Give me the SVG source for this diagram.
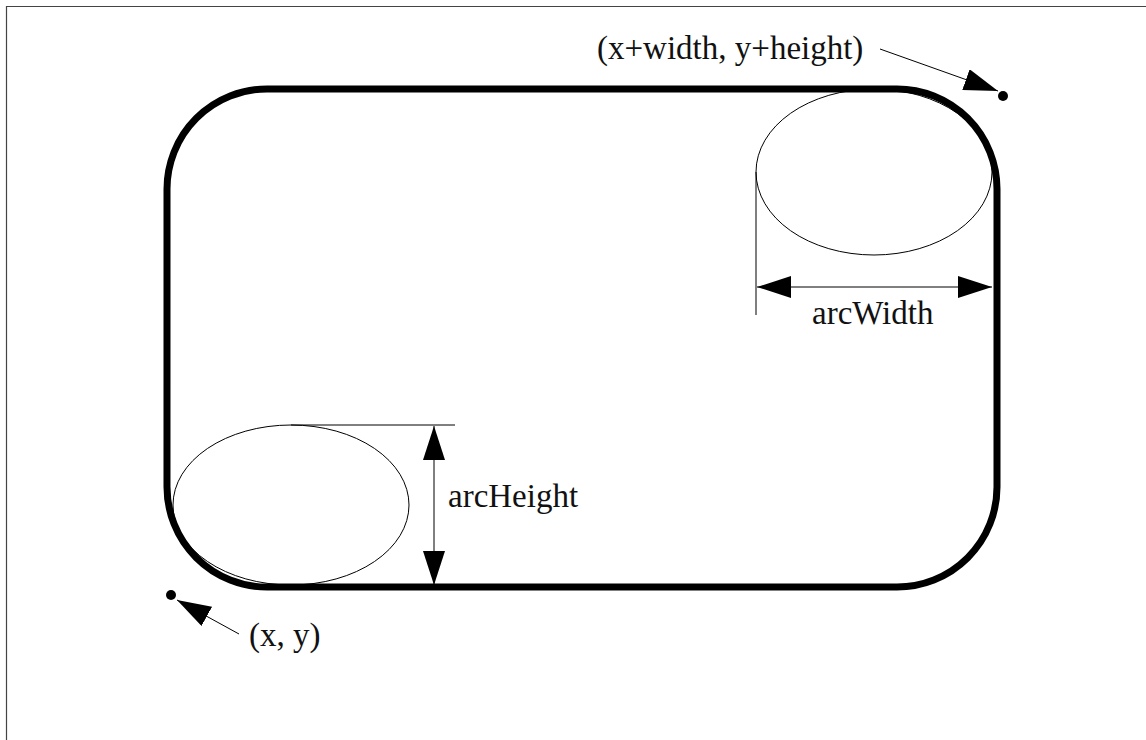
<svg xmlns="http://www.w3.org/2000/svg" width="1146" height="740" viewBox="0 0 1146 740">
  <style>
    .lbl { font-family: "Liberation Serif", "DejaVu Serif", serif; font-size: 33px; fill: #111; }
    .thin { fill: none; stroke: #000; stroke-width: 1; }
    .arr { fill: none; stroke: #000; stroke-width: 1; }
  </style>
  <defs>
    <marker id="ah" viewBox="0 0 34 22" refX="34" refY="11" markerWidth="34" markerHeight="22" markerUnits="userSpaceOnUse" orient="auto-start-reverse">
      <path d="M0,0 L34,11 L0,22 Z" fill="#000"/>
    </marker>
  </defs>
  <rect x="0" y="0" width="1146" height="740" fill="#fff"/>
  <g id="frame">
    <path d="M6.5,740 V6.5 H1146" fill="none" stroke="#444" stroke-width="1.2"/>
  </g>
  <g id="roundrect">
    <rect x="167" y="89" width="830" height="498" rx="100" ry="100" fill="none" stroke="#000" stroke-width="7"/>
  </g>
  <g id="arc-ellipse-top">
    <ellipse cx="874" cy="172" rx="118" ry="83" class="thin"/>
  </g>
  <g id="arc-ellipse-bottom">
    <ellipse cx="291" cy="505" rx="118" ry="80" class="thin"/>
  </g>
  <g id="point-xy">
    <circle cx="171" cy="595" r="5" fill="#000"/>
    <text class="lbl" x="249" y="646">(x, y)</text>
  </g>
  <g id="point-wh">
    <circle cx="1003" cy="96" r="5" fill="#000"/>
    <text class="lbl" x="597" y="59">(x+width, y+height)</text>
  </g>
  <g id="label-arcwidth">
    <text class="lbl" x="812" y="324">arcWidth</text>
  </g>
  <g id="label-archeight">
    <text class="lbl" x="448" y="507">arcHeight</text>
  </g>
  <g id="connectors">
    <line x1="756" y1="172" x2="756" y2="315" class="thin"/>
    <line x1="291" y1="425" x2="455" y2="425" class="thin"/>
    <line x1="757" y1="287" x2="992" y2="287" class="arr" marker-start="url(#ah)" marker-end="url(#ah)"/>
    <line x1="434" y1="426" x2="434" y2="585" class="arr" marker-start="url(#ah)" marker-end="url(#ah)"/>
    <line x1="880" y1="49" x2="998" y2="91" class="arr" marker-end="url(#ah)"/>
    <line x1="239" y1="634" x2="177" y2="600" class="arr" marker-end="url(#ah)"/>
  </g>
</svg>
